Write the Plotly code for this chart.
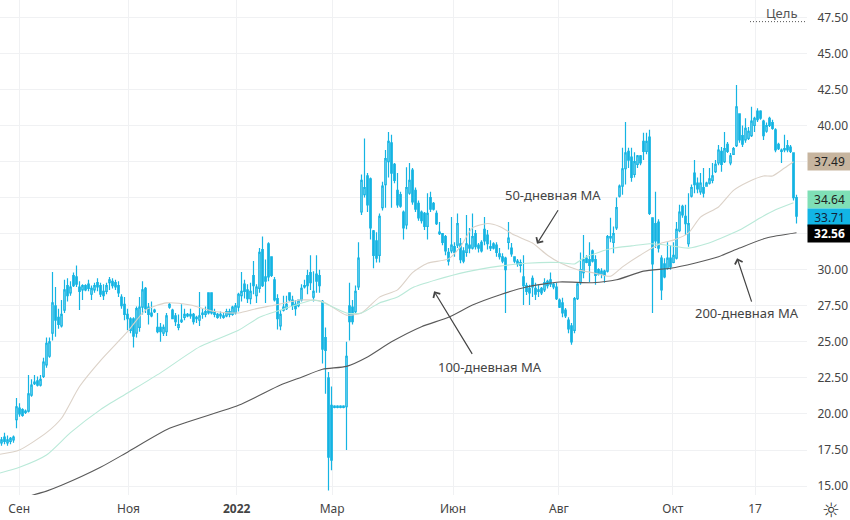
import plotly.graph_objects as go

highs = [
 18.4,18.7,18.5,18.4,18.5,21.1,20.75,20.4,20.3,22.7,
 22.4,22.7,22.6,22.7,23.9,25.3,25.3,29.85,28.8,27.3,
 27.9,29.3,29.4,29.2,29.8,30.3,29.2,29.0,29.0,29.3,
 28.9,29.1,29.4,29.1,29.0,29.1,29.5,29.4,29.3,29.2,
 28.3,28.1,27.3,26.7,26.7,27.45,28.1,29.2,28.8,27.7,
 27.8,27.3,27.0,26.3,26.2,27.0,27.7,27.3,27.0,26.9,
 27.6,27.3,27.0,27.3,27.0,26.8,28.45,27.3,27.45,28.4,
 28.4,27.3,27.0,27.1,27.0,27.3,27.3,27.5,27.7,28.4,
 29.85,29.3,29.0,29.1,30.6,29.0,31.5,32.3,30.7,31.9,
 30.9,29.5,28.3,27.2,28.2,28.2,28.4,28.2,27.9,27.9,
 29.0,29.3,30.0,31.0,29.9,31.0,30.0,27.9,26.0,22.9,
 21.9,20.6,20.6,20.6,20.6,25.0,29.1,27.9,28.9,31.9,
 36.6,39.1,36.7,36.4,32.75,32.6,33.9,36.1,38.3,39.55,
 39.35,37.4,36.7,35.4,34.1,37.1,37.4,37.05,35.7,34.8,
 34.1,34.0,35.3,35.4,34.7,34.1,33.3,32.55,32.4,31.5,
 33.65,31.9,33.9,32.2,31.55,33.8,32.9,33.9,32.75,31.85,
 32.05,33.65,32.75,32.05,31.9,31.9,31.5,31.15,30.9,33.3,
 31.85,30.9,30.75,30.7,31.0,29.1,28.95,29.6,29.1,28.95,
 28.8,29.4,29.3,29.8,29.1,29.1,28.0,28.05,27.35,26.7,
 26.3,28.1,29.1,31.2,32.4,31.0,31.9,31.4,31.0,30.1,
 30.1,30.0,32.4,33.6,33.0,35.0,35.9,38.45,40.25,38.45,
 38.45,38.15,37.95,37.95,39.5,39.5,39.7,33.6,35.4,33.5,
 31.0,30.8,31.9,31.7,31.9,33.3,34.5,34.5,34.5,35.3,
 35.9,37.6,36.4,36.7,37.05,36.1,37.05,37.4,37.6,38.65,
 38.5,39.55,38.85,38.1,38.5,42.8,40.85,40.0,40.5,39.9,
 41.3,40.6,41.2,41.05,40.4,40.2,40.6,40.4,39.8,38.8,
 38.4,39.35,39.0,38.65,38.1,35.2,
]
lows = [
 17.8,17.9,17.8,17.9,18.0,19.0,19.8,19.8,20.0,20.1,
 21.2,22.0,21.9,21.9,22.5,23.2,23.9,25.1,25.35,25.9,
 26.0,27.0,27.8,28.2,28.8,28.8,27.2,27.9,28.5,28.5,
 27.9,28.4,28.5,28.1,27.9,28.3,28.6,28.7,28.6,28.1,
 27.3,26.5,25.8,25.6,24.6,25.3,25.7,26.9,27.0,26.2,
 26.7,27.0,25.6,25.0,25.4,25.4,27.3,26.6,26.1,25.8,
 26.3,26.5,26.7,26.6,26.2,26.3,26.1,26.6,26.7,26.9,
 26.9,26.7,26.6,26.6,26.6,26.7,26.7,26.8,26.9,27.1,
 27.8,28.0,27.7,27.6,28.3,27.7,28.4,28.8,27.7,29.2,
 29.5,27.8,25.85,25.8,27.1,27.2,27.8,27.2,26.8,27.4,
 27.8,28.7,28.3,28.6,27.8,28.4,28.4,23.5,21.4,14.7,
 16.1,20.4,20.4,20.4,20.4,17.5,25.1,26.2,27.0,28.6,
 33.8,35.0,34.0,32.1,30.1,30.5,30.5,34.1,34.3,36.4,
 34.3,36.0,34.3,34.3,32.1,32.8,35.2,34.5,34.0,33.4,
 33.2,32.75,32.1,34.0,34.1,33.1,32.4,31.7,31.0,30.3,
 31.15,30.9,31.5,30.45,30.45,30.9,31.15,31.4,31.4,31.2,
 31.2,31.7,31.4,31.3,31.4,30.9,30.7,30.45,27.0,31.4,
 30.9,30.45,30.2,29.8,27.55,28.25,27.55,28.1,27.9,28.1,
 28.25,28.45,28.7,28.8,28.65,27.9,27.35,26.7,26.65,25.6,
 24.8,25.6,27.9,28.95,29.4,30.45,29.15,30.5,28.95,29.6,
 29.4,29.1,29.8,31.9,31.15,32.75,35.0,35.2,35.9,37.05,
 36.1,36.4,37.05,37.25,37.6,38.0,33.8,27.0,31.5,31.2,
 27.9,29.4,30.0,30.0,30.45,30.7,32.6,33.6,32.4,31.6,
 35.0,35.3,35.3,35.2,35.0,35.75,35.9,36.0,36.7,37.25,
 36.8,37.4,38.1,37.25,37.95,38.5,38.8,38.5,38.8,39.0,
 39.2,39.55,40.25,40.4,39.0,39.5,39.9,39.7,38.15,38.3,
 37.4,38.15,38.15,38.1,34.8,33.2,
]
opens = [
 18.0,18.4,18.0,18.1,18.2,19.6,20.4,20.3,20.2,20.2,
 21.3,22.2,22.3,22.0,22.6,23.4,24.0,25.6,27.5,26.7,
 26.1,27.2,28.9,28.4,29.6,29.5,28.8,28.6,28.9,29.0,
 28.3,28.6,29.1,28.9,28.5,28.5,29.1,29.2,29.1,28.9,
 28.1,27.6,26.9,26.6,26.6,25.6,26.0,27.4,28.7,27.4,
 27.0,27.1,26.0,26.0,25.6,25.7,27.4,27.2,26.8,26.0,
 26.4,26.7,26.9,26.9,26.9,26.6,26.5,26.9,26.9,28.4,
 28.4,27.1,26.9,26.8,26.8,26.8,26.9,26.9,27.0,27.4,
 28.2,29.0,28.6,28.0,29.6,28.2,28.7,31.4,29.5,31.8,
 30.9,29.3,28.0,26.1,27.2,27.3,28.4,27.9,27.6,27.5,
 27.9,28.9,29.6,29.8,28.1,29.7,29.6,27.8,25.3,22.5,
 20.6,20.55,20.55,20.55,20.55,20.5,27.5,27.4,27.1,28.8,
 34.0,35.2,36.5,36.3,32.7,32.0,31.0,34.3,35.9,37.5,
 38.8,37.3,35.5,35.2,34.0,33.1,35.3,36.9,35.5,34.6,
 34.0,33.9,33.0,35.0,34.6,33.9,32.6,32.5,32.3,31.2,
 31.3,31.6,31.7,31.8,31.3,31.2,31.7,31.5,32.5,31.7,
 31.9,32.8,32.4,31.6,31.8,31.7,31.1,30.9,30.8,31.9,
 31.5,30.9,30.6,30.5,29.5,28.9,28.7,29.4,28.7,28.5,
 28.7,28.6,29.2,29.3,29.0,28.8,27.9,27.7,27.2,26.5,
 26.1,25.8,28.0,29.1,29.8,30.8,30.7,31.3,30.7,30.0,
 29.7,29.9,29.9,32.2,31.9,32.9,35.1,35.8,37.0,38.2,
 37.8,36.6,37.3,37.9,38.9,38.2,39.2,33.6,33.2,33.3,
 30.8,30.4,30.1,30.8,30.5,30.8,32.7,34.4,33.7,31.8,
 35.1,36.7,36.0,35.4,35.7,35.8,36.0,36.2,36.8,37.4,
 38.2,37.5,38.7,37.4,38.0,38.6,40.8,39.3,39.0,39.1,
 39.3,40.0,41.0,41.0,40.3,39.6,40.5,40.2,39.7,38.7,
 38.2,38.4,38.6,38.5,38.1,35.0,
]
closes = [
 18.2,18.1,18.2,18.3,18.4,20.5,20.0,19.9,20.1,21.4,
 22.0,22.1,22.0,22.4,23.6,24.9,25.0,27.7,26.5,26.2,
 26.9,28.6,28.2,28.8,28.9,29.0,28.5,28.9,28.6,28.7,
 28.7,28.9,28.8,28.3,28.2,28.9,29.3,28.9,28.8,28.4,
 27.5,26.9,26.6,25.8,25.4,27.3,27.4,28.6,27.3,26.9,
 26.8,27.2,25.7,25.7,26.0,26.8,27.6,26.6,26.4,26.2,
 26.5,26.9,26.8,26.8,26.4,26.7,26.8,27.0,27.1,27.0,
 27.0,26.9,26.7,26.9,26.7,27.1,27.1,27.4,27.5,28.3,
 28.5,28.5,28.0,28.5,28.9,28.8,31.2,28.9,29.2,29.5,
 29.6,27.9,26.6,26.9,27.4,27.6,27.9,27.5,27.3,27.9,
 28.7,28.8,28.9,29.1,28.5,29.2,28.9,24.5,24.4,17.0,
 16.8,20.45,20.45,20.45,20.45,24.0,26.4,26.4,28.5,30.8,
 36.2,35.7,34.5,32.9,31.0,30.8,33.7,35.8,37.7,38.9,
 36.7,36.2,34.5,34.4,32.9,35.7,36.2,34.7,34.2,33.6,
 33.4,33.0,33.9,34.2,34.2,33.2,32.5,31.9,31.3,30.6,
 31.7,31.2,33.2,30.7,30.6,31.8,31.5,32.3,31.6,31.5,
 31.3,32.0,31.8,31.5,31.5,31.2,30.9,30.6,30.0,32.2,
 31.1,30.6,30.4,30.3,28.9,28.5,28.4,28.8,28.3,28.6,
 28.4,29.1,28.9,29.0,28.8,28.0,27.4,27.0,26.8,25.9,
 25.0,28.0,29.0,30.0,30.7,30.5,30.3,30.6,29.6,29.7,
 29.9,29.6,32.3,32.3,32.5,34.3,35.8,37.0,38.1,37.6,
 36.4,37.5,37.9,37.4,38.2,38.9,33.9,30.4,32.0,31.5,
 28.6,29.5,30.8,30.2,31.0,32.8,34.0,33.8,33.2,33.2,
 35.7,35.9,35.6,36.0,35.3,36.0,36.3,36.5,37.3,38.3,
 37.3,38.4,38.2,37.9,38.4,41.3,39.0,38.7,39.8,39.6,
 40.3,40.5,40.4,40.5,39.3,40.0,40.0,39.8,38.3,38.4,
 38.3,38.3,38.3,38.2,35.0,33.71,
]

ma50_x = [-0.5,6,15,20,26,33,42,48,55,63,71,79,85,90,100,107,115,120,126,132,137,142,149,153,157,162,166,171,177,182,186,192,197,203,207,214,220,224,229,233,239,244,249,254,257,261,264]
ma50 = [17.2,17.5,18.7,19.7,21.9,23.7,25.7,27.2,27.7,27.55,27.1,27.0,27.3,27.5,27.9,27.8,26.85,27.0,28.1,28.6,29.8,30.45,30.75,31.6,32.9,33.2,33.0,32.4,31.85,31.0,30.5,30.0,29.8,29.55,30.2,31.15,31.85,32.05,32.55,33.65,34.35,35.5,36.1,36.5,36.5,37.05,37.49]
ma100_x = [-0.5,6,15,23,33,42,53,66,79,86,93,104,107,115,120,126,132,137,145,155,166,175,186,191,194,199,204,210,216,222,229,235,240,246,253,258,264]
ma100 = [15.9,16.3,17.15,18.7,20.3,21.45,22.85,24.65,25.8,26.7,27.2,27.9,27.75,27.0,27.0,27.7,28.1,28.75,29.3,29.85,30.25,30.45,30.5,30.4,30.8,31.2,31.5,31.65,31.8,31.7,31.5,31.8,32.2,32.75,33.6,34.15,34.64]
ma200_x = [10,15,20,33,42,56,79,93,100,107,115,122,130,140,149,157,166,175,186,197,205,214,223,231,239,246,255,265]
ma200 = [14.35,14.65,15.05,16.3,17.35,19.0,20.6,22.0,22.55,23.1,23.3,23.95,25.0,26.05,26.7,27.55,28.25,28.8,29.15,29.1,29.3,29.9,30.1,30.45,30.9,31.5,32.2,32.56]

x_tick_pos = [5.9,42.3,78.4,110.2,150.5,185.8,223.8,251.2]
x_tick_text = ["Сен","Ноя","<b>2022</b>","Мар","Июн","Авг","Окт","17"]
y_ticks = [15,17.5,20,22.5,25,27.5,30,32.5,35,37.5,40,42.5,45,47.5]
y_tick_text = ["15.00","17.50","20.00","22.50","25.00","27.50","30.00","","","","40.00","42.50","45.00","47.50"]

price_tags = [37.49,34.64,33.71,32.56]
tag_bg = ["#c7b59f","#7fdfb6","#12b5e5","#000000"]
tag_fg = ["#222222","#222222","#10233a","#ffffff"]
tag_shift = [0,3.5,-1,-1]

target_label = "Цель"
target_level = 47.2
labels = ["50-дневная MA","100-дневная MA","200-дневная MA"]
label_x = [183.8,162.8,248.5]
label_y = [35.2,23.25,27.0]
arrow_x = [178.5,144.2,245.2]
arrow_y = [31.8,28.5,30.8]
arrow_ax = [22,39,15]
arrow_ay = [-35,64,45]

assert len(highs)==len(lows)==len(opens)==len(closes), (len(highs),len(lows),len(opens),len(closes))
assert len(ma50)==len(ma50_x) and len(ma100)==len(ma100_x) and len(ma200)==len(ma200_x)

CYAN = "#14b4e3"
FONT = "Noto Sans"
TXT = "#444444"

fig = go.Figure()
fig.add_trace(go.Candlestick(
    x=list(range(len(opens))), open=opens, high=highs, low=lows, close=closes,
    increasing=dict(line=dict(color=CYAN,width=1.2), fillcolor="#ffffff"),
    decreasing=dict(line=dict(color=CYAN,width=1.2), fillcolor=CYAN),
    whiskerwidth=0, showlegend=False))
for xs, ys, col, w in [(ma50_x,ma50,"#dcd2c8",1.1),(ma100_x,ma100,"#b9e9d8",1.1),(ma200_x,ma200,"#5a5a5a",1.1)]:
    fig.add_trace(go.Scatter(x=xs,y=ys,mode="lines",line=dict(color=col,width=w,shape="spline",smoothing=0.6),showlegend=False,hoverinfo="skip"))

ann = []
for t,x,y in zip(labels,label_x,label_y):
    ann.append(dict(x=x,y=y,xref="x",yref="y",text=t,showarrow=False,font=dict(family=FONT,size=13,color=TXT)))
for x,y,ax,ay in zip(arrow_x,arrow_y,arrow_ax,arrow_ay):
    ann.append(dict(x=x,y=y,xref="x",yref="y",text="",showarrow=True,ax=ax,ay=ay,arrowhead=4,arrowsize=1.3,arrowwidth=1.2,arrowcolor="#444444"))
for v,bg,fg,s in zip(price_tags,tag_bg,tag_fg,tag_shift):
    ann.append(dict(x=1,y=v,xref="paper",yref="y",xanchor="left",yanchor="middle",text=(f"<b>{v:.2f}</b>" if bg=="#000000" else f"{v:.2f}"),
                    showarrow=False,bgcolor=bg,width=43,height=17,yshift=s,borderpad=0,
                    font=dict(family=FONT,size=12,color=fg),align="center"))
ann.append(dict(x=260,y=47.8,xref="x",yref="y",text=target_label,showarrow=False,font=dict(family=FONT,size=13,color="#555555")))
ann.append(dict(x=1.03,y=-0.03,xref="paper",yref="paper",xanchor="center",yanchor="middle",text="☼",showarrow=False,font=dict(family="DejaVu Sans",size=20,color="#333333")))

fig.update_layout(
    width=850,height=520,margin=dict(l=0,r=43,t=0,b=25),
    paper_bgcolor="#ffffff",plot_bgcolor="#ffffff",
    showlegend=False,annotations=ann,
    shapes=[dict(type="line",xref="x",yref="y",x0=249.5,x1=268.5,y0=target_level,y1=target_level,
                 line=dict(color="#555555",width=1,dash="1px,2px"))],
    xaxis=dict(range=[-0.5,268.5],rangeslider=dict(visible=False),tickmode="array",tickvals=x_tick_pos,ticktext=x_tick_text,
               showgrid=True,gridcolor="#f0f1f3",gridwidth=1,zeroline=False,showline=False,ticks="outside",ticklen=3,tickcolor="rgba(0,0,0,0)",
               tickfont=dict(family=FONT,size=12,color=TXT)),
    yaxis=dict(side="right",range=[14.38,48.7],tickmode="array",tickvals=y_ticks,ticktext=y_tick_text,
               showgrid=True,gridcolor="#f0f1f3",gridwidth=1,zeroline=False,showline=False,ticks="outside",ticklen=7,tickcolor="rgba(0,0,0,0)",
               tickfont=dict(family=FONT,size=12,color=TXT)),
)
fig.write_html("out.html",config=dict(displayModeBar=False),
               post_script="document.body.style.margin='0';document.body.style.overflow='hidden';")
